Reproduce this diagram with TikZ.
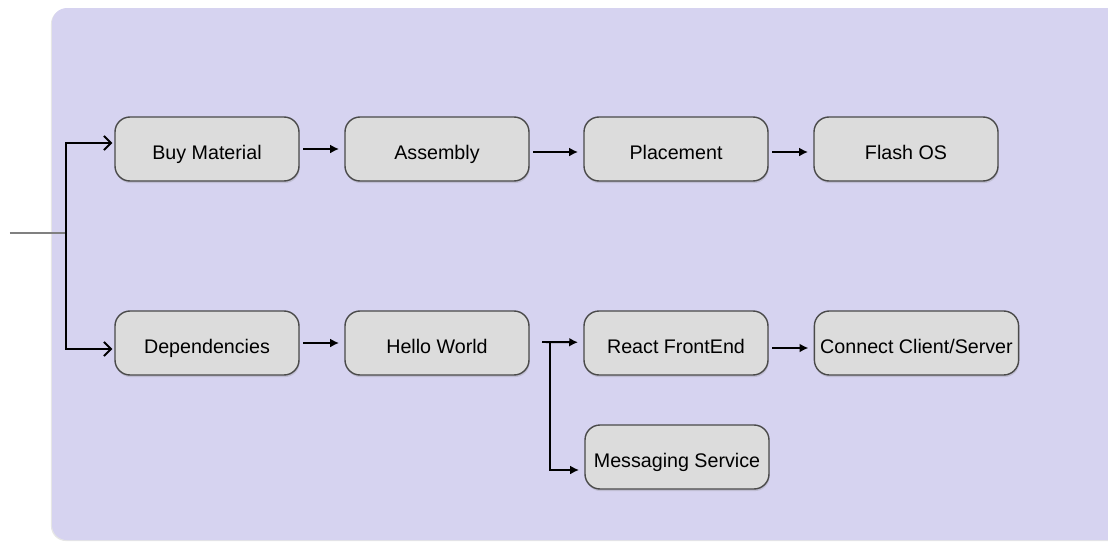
\documentclass[tikz,border=0pt]{standalone}
\usepackage{fontspec}
\setmainfont{Liberation Sans}
\usetikzlibrary{arrows.meta}
\usetikzlibrary{shadows}
\definecolor{panel}{HTML}{D6D3F0}
\definecolor{boxfill}{HTML}{DCDCDC}
\definecolor{boxline}{HTML}{4A4A4A}
\tikzset{
	%	task/.style={rectangle,rounded corners,draw},
	task/.style={rectangle,rounded corners=0.3cm,draw=boxline,line width=0.8pt,fill=boxfill,
		minimum width=3.68cm,minimum height=1.28cm,font=\fontsize{11.2}{13}\selectfont,
		text height=2.2ex,text depth=0pt,
		drop shadow={shadow xshift=0.4pt,shadow yshift=-1.2pt,opacity=0.25}},
	edge/.style={-{Latex[length=5pt,width=5pt]},line width=1.1pt,shorten <=2pt,shorten >=3pt},
	openedge/.style={-{Straight Barb[length=4pt,width=8pt]},line width=1.1pt}
}

\begin{document}
\begin{tikzpicture}
	\useasboundingbox (0,0) rectangle (22.16,-10.82);
	\fill[panel,rounded corners=0.3cm,drop shadow={shadow xshift=-0.6pt,shadow yshift=-0.6pt,opacity=0.2}]
		(1.04,-0.16) rectangle (22.6,-10.8);
	
	\node[task] (buy) at (4.14,-2.98) {Buy Material};
	\node[task] (assembly) at (8.74,-2.98) {Assembly};
	\node[task] (placement) at (13.52,-2.98) {Placement};
	\node[task] (flash) at (18.12,-2.98) {Flash OS};
	
	\node[task] (deps) at (4.14,-6.86) {Dependencies};
	\node[task] (hello) at (8.74,-6.86) {Hello World};
	\node[task] (react) at (13.52,-6.86) {React FrontEnd};
	\node[task,minimum width=4.08cm] (connect) at (18.33,-6.86) {Connect Client/Server};
	\node[task] (messaging) at (13.54,-9.14) {Messaging Service};
	
	\coordinate (start) at (0.2,-4.66);
	\coordinate (split) at (1.32,-4.66);
	\coordinate (fork) at (10.84,-6.84);
	\coordinate (forkdown) at (11.0,-6.84);
	
	\draw[gray,line width=0.6pt] (start) -- (split);
	\draw[openedge] (split) |- ([yshift=0.12cm,xshift=-0.04cm]buy.west);
	\draw[openedge] (split) |- ([yshift=-0.12cm,xshift=-0.04cm]deps.west);
	
	\draw[edge] (buy) -- (assembly);
	\draw[edge] ([yshift=-0.06cm]assembly.east) -- ([yshift=-0.06cm]placement.west);
	\draw[edge] ([yshift=-0.06cm]placement.east) -- ([yshift=-0.06cm]flash.west);
	
	\draw[edge] (deps) -- (hello);
	\draw[edge,shorten <=0pt] (fork) -- (react);
	\draw[edge,shorten <=0pt] (forkdown) |- ([yshift=-0.26cm]messaging.west);
	\draw[edge] ([yshift=-0.1cm]react.east) -- ([yshift=-0.1cm]connect.west);
\end{tikzpicture}
\end{document}
